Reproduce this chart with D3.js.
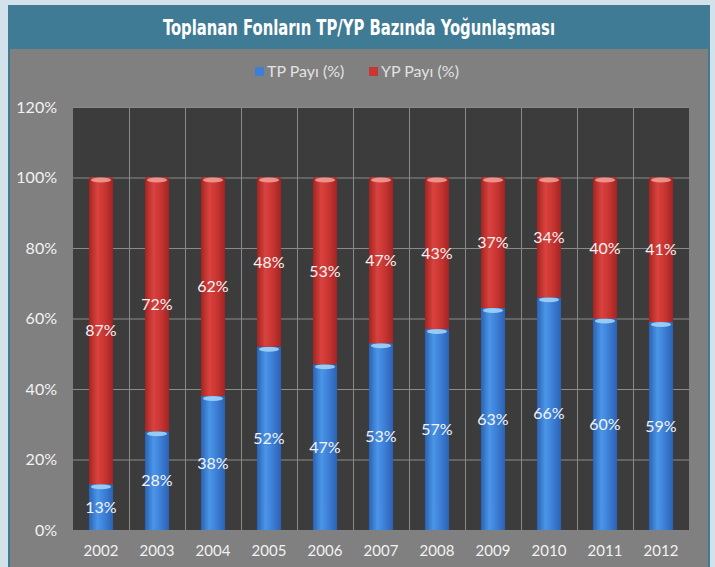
<!DOCTYPE html>
<html>
<head>
<meta charset="utf-8">
<script src="https://cdn.jsdelivr.net/npm/d3@7"></script>
<style>
  html, body { margin: 0; padding: 0; background: #d2e1ea; }
  svg { display: block; }
</style>
</head>
<body>
<svg id="chart" width="715" height="567"></svg>
<script>
// Yearly split of collected funds: TL share vs FX share (%)
const years = ["2002","2003","2004","2005","2006","2007","2008","2009","2010","2011","2012"];
const tpShare = [13, 28, 38, 52, 47, 53, 57, 63, 66, 60, 59];
const ypShare = [87, 72, 62, 48, 53, 47, 43, 37, 34, 40, 41];
const yTicks = [0, 20, 40, 60, 80, 100, 120];
const seriesNames = ["TP Payı (%)", "YP Payı (%)"];

const svg = d3.select("#chart");
const W = 715, H = 567;

// outer frame
svg.append("rect").attr("width", W).attr("height", H).attr("fill", "#d2e1ea");
svg.append("rect").attr("x", 8).attr("y", 5).attr("width", 702).attr("height", H - 5).attr("fill", "#3f7b94");
svg.append("rect").attr("x", 10).attr("y", 49).attr("width", 698).attr("height", H - 49).attr("fill", "#808080");

svg.append("text")
  .attr("x", 359).attr("y", 35)
  .attr("text-anchor", "middle")
  .attr("font-family", "'DejaVu Sans Condensed', 'DejaVu Sans', sans-serif")
  .attr("font-weight", "bold")
  .attr("font-size", 21)
  .attr("textLength", 392)
  .attr("lengthAdjust", "spacingAndGlyphs")
  .attr("fill", "#ffffff")
  .text("Toplanan Fonların TP/YP Bazında Yoğunlaşması");

// gradients for the cylinder-style bars
const defs = svg.append("defs");
function cyl(id, edge, mid, hi) {
  const g = defs.append("linearGradient").attr("id", id).attr("x1", "0").attr("x2", "1").attr("y1", "0").attr("y2", "0");
  g.append("stop").attr("offset", "0%").attr("stop-color", edge);
  g.append("stop").attr("offset", "35%").attr("stop-color", hi);
  g.append("stop").attr("offset", "65%").attr("stop-color", mid);
  g.append("stop").attr("offset", "100%").attr("stop-color", edge);
}
cyl("gBlue", "#2b62b3", "#3d7fd6", "#4b95e8");
cyl("gRed", "#a32422", "#c83532", "#d9423e");

const m = { left: 73, right: 689, top: 107, bottom: 530 };
const x = d3.scaleBand().domain(years).range([m.left, m.right]).paddingInner(0.57).paddingOuter(0.285);
const y = d3.scaleLinear().domain([0, 120]).range([m.bottom, m.top]);

// plot area
svg.append("rect").attr("x", m.left).attr("y", m.top).attr("width", m.right - m.left).attr("height", m.bottom - m.top).attr("fill", "#3c3c3c");

// horizontal gridlines
svg.append("g").selectAll("line").data(yTicks.slice(1)).join("line")
  .attr("x1", m.left).attr("x2", m.right)
  .attr("y1", d => y(d) + 0.5).attr("y2", d => y(d) + 0.5)
  .attr("stroke", "#8a8a8a").attr("stroke-width", 1);

// vertical gridlines between categories
const step = x.step();
svg.append("g").selectAll("line").data(years.slice(1)).join("line")
  .attr("x1", d => Math.round(x(d) - step * x.paddingInner() / 2) + 0.5)
  .attr("x2", d => Math.round(x(d) - step * x.paddingInner() / 2) + 0.5)
  .attr("y1", m.top).attr("y2", m.bottom)
  .attr("stroke", "#8a8a8a").attr("stroke-width", 1);

// y axis labels
const yAxis = d3.axisLeft(y).tickValues(yTicks).tickFormat(d => d + "%").tickSize(0).tickPadding(0);
const ya = svg.append("g").attr("transform", `translate(${57},0)`).call(yAxis);
ya.select(".domain").remove();
ya.selectAll("text").attr("font-family", "Lato, sans-serif").attr("font-size", 16).attr("fill", "#f2f2f2");

// x axis labels
const xAxis = d3.axisBottom(x).tickSize(0).tickPadding(0);
const xa = svg.append("g").attr("transform", `translate(0,${m.bottom + 15})`).call(xAxis);
xa.select(".domain").remove();
xa.selectAll("text").attr("font-family", "Lato, sans-serif").attr("font-size", 15).attr("fill", "#f2f2f2");

// stacked data
const rows = years.map((yr, i) => ({ year: yr, tp: tpShare[i], yp: ypShare[i] }));
const stack = d3.stack().keys(["tp", "yp"])(rows);
const fills = { tp: "url(#gBlue)", yp: "url(#gRed)" };
const caps = { tp: "#9fd3f7", yp: "#f29a92" };
const bw = x.bandwidth();

stack.forEach(layer => {
  const g = svg.append("g");
  g.selectAll("rect").data(layer).join("rect")
    .attr("x", d => x(d.data.year))
    .attr("y", d => y(d[1]))
    .attr("width", bw)
    .attr("height", d => y(d[0]) - y(d[1]))
    .attr("fill", fills[layer.key]);
  // lit top rim of each segment
  g.selectAll("ellipse").data(layer).join("ellipse")
    .attr("cx", d => x(d.data.year) + bw / 2)
    .attr("cy", d => y(d[1]) + 2.5)
    .attr("rx", bw / 2 - 2)
    .attr("ry", 2.5)
    .attr("fill", caps[layer.key])
    .attr("opacity", 0.9);
});

// value labels centred in each segment
stack.forEach(layer => {
  svg.append("g").selectAll("text").data(layer).join("text")
    .attr("x", d => x(d.data.year) + bw / 2)
    .attr("y", d => (y(d[0]) + y(d[1])) / 2)
    .attr("dy", "0.35em")
    .attr("text-anchor", "middle")
    .attr("font-family", "Lato, sans-serif")
    .attr("font-size", 16)
    .attr("fill", "#f4f4f4")
    .text(d => (d[1] - d[0]) + "%");
});

// legend
const legend = svg.append("g");
const lx = [255, 369];
seriesNames.forEach((name, i) => {
  legend.append("rect").attr("x", lx[i]).attr("y", 67).attr("width", 9).attr("height", 9)
    .attr("fill", i === 0 ? "#3d7fd6" : "#c83532");
  legend.append("text").attr("x", lx[i] + 12).attr("y", 77)
    .attr("font-family", "Lato, sans-serif").attr("font-size", 16).attr("fill", "#e2e2e2")
    .text(name);
});
</script>
</body>
</html>
